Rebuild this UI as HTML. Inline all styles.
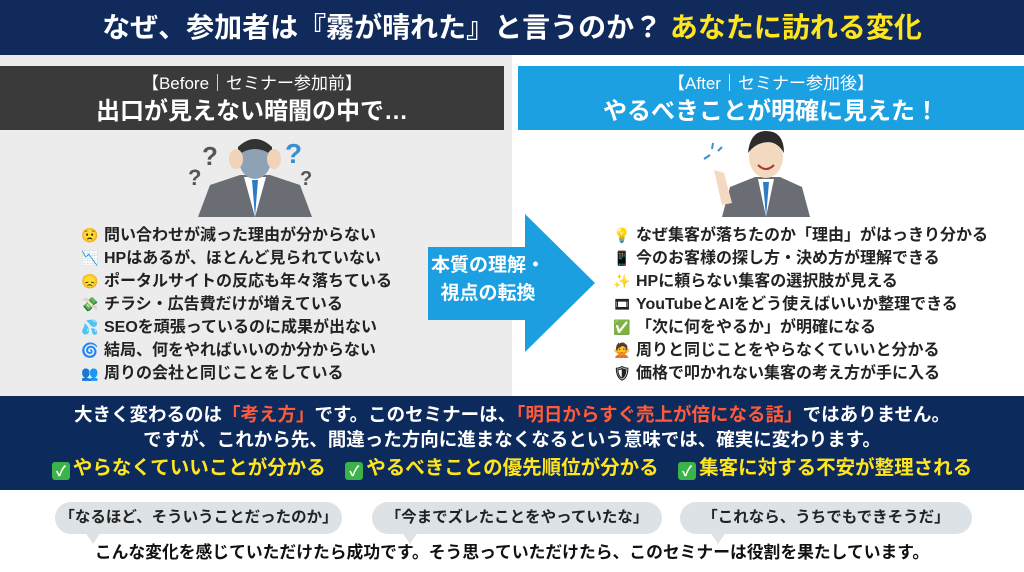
<!DOCTYPE html>
<html><head><meta charset="utf-8"><style>
*{margin:0;padding:0;box-sizing:border-box}
body{width:1024px;height:572px;overflow:hidden;background:#fff;font-family:"Liberation Sans","Noto Sans CJK JP",sans-serif;position:relative}
.a{position:absolute}
.hdr{left:0;top:0;width:1024px;height:55px;background:#102a5c;color:#fff;font-size:28px;font-weight:bold;text-align:center;line-height:55px;white-space:nowrap}
.y{color:#ffe51e}
.lp{left:0;top:55px;width:512px;height:341px;background:#ececec}
.bar{top:66px;height:64px;color:#fff;text-align:center;font-weight:bold}
.bar .s{font-size:17px;line-height:26px;padding-top:5px;font-weight:normal}
.bar .b{font-size:24px;line-height:30px}
.list{font-size:16px;font-weight:bold;color:#222;line-height:23px}
.list div{white-space:nowrap}
.ic{display:inline-block;width:20px;margin-right:4px;text-align:center;font-size:14px}
.band{left:0;top:396px;width:1024px;height:94px;background:#0d2a5c;color:#fff;font-weight:bold;text-align:center;font-size:18.5px;white-space:nowrap}
.r{color:#ff5b3a}
.chk{display:inline-block;width:18px;height:18px;background:#3cb34a;color:#fff;font-size:14px;line-height:18px;border-radius:3px;vertical-align:-2px;margin-right:3px}
.bub{top:502px;height:32px;background:#dde2e6;border-radius:16px;text-align:center;line-height:32px;font-size:15.5px;font-weight:bold;color:#222;white-space:nowrap}
.bub:after{content:"";position:absolute;left:30px;bottom:-10px;border-left:8px solid transparent;border-right:8px solid transparent;border-top:12px solid #dde2e6}
</style></head><body>
<div class="a hdr">なぜ、参加者は『霧が晴れた』と言うのか？ <span class="y">あなたに訪れる変化</span></div>
<div class="a lp"></div>
<div class="a bar" style="left:0;width:504px;background:#3a3a3a"><div class="s">【Before｜セミナー参加前】</div><div class="b">出口が見えない暗闇の中で…</div></div>
<div class="a bar" style="left:518px;width:506px;background:#1ba0e2"><div class="s">【After｜セミナー参加後】</div><div class="b">やるべきことが明確に見えた！</div></div>

<svg class="a" style="left:180px;top:135px" width="150" height="82">
<text x="22" y="30" font-size="26" font-weight="bold" fill="#555" font-family="Liberation Sans">?</text>
<text x="8" y="50" font-size="22" font-weight="bold" fill="#555" font-family="Liberation Sans">?</text>
<text x="105" y="28" font-size="28" font-weight="bold" fill="#3a8fd0" font-family="Liberation Sans">?</text>
<text x="120" y="50" font-size="20" font-weight="bold" fill="#555" font-family="Liberation Sans">?</text>
<path d="M18 82 L30 50 L60 40 L90 40 L120 50 L132 82Z" fill="#6a6e74"/>
<path d="M64 42 L75 82 L86 42Z" fill="#fff"/><path d="M72 45 L75 82 L78 45Z" fill="#2f7ac4"/>
<ellipse cx="75" cy="25" rx="16" ry="19" fill="#8fa2b5"/>
<path d="M58 12 Q75 -4 92 12 L92 20 Q75 8 58 20Z" fill="#333"/>
<ellipse cx="56" cy="24" rx="7" ry="10" fill="#f1d3b8"/><ellipse cx="94" cy="24" rx="7" ry="10" fill="#f1d3b8"/>
</svg>
<svg class="a" style="left:700px;top:125px" width="115" height="92">
<path d="M22 92 L30 62 L55 52 L80 52 L102 62 L110 92Z" fill="#6a6e74"/>
<path d="M58 54 L66 92 L74 54Z" fill="#fff"/><path d="M63 57 L66 92 L69 57Z" fill="#2f7ac4"/>
<ellipse cx="66" cy="32" rx="17" ry="21" fill="#f3d9c0"/>
<path d="M48 28 Q50 6 66 6 Q84 6 84 28 Q76 14 62 18 Q54 20 48 28Z" fill="#2b2b2b"/>
<path d="M58 40 Q66 48 74 40" stroke="#a33" stroke-width="2" fill="none"/>
<path d="M14 45 L22 80 L32 78 L24 48Z" fill="#f3d9c0"/>
<path d="M4 34 L10 30 M12 24 L13 18 M18 26 L22 22" stroke="#3a8fd0" stroke-width="2"/>
</svg>

<div class="a list" style="left:80px;top:224px">
<div><span class="ic">😟</span>問い合わせが減った理由が分からない</div>
<div><span class="ic">📉</span>HPはあるが、ほとんど見られていない</div>
<div><span class="ic">😞</span>ポータルサイトの反応も年々落ちている</div>
<div><span class="ic">💸</span>チラシ・広告費だけが増えている</div>
<div><span class="ic">💦</span>SEOを頑張っているのに成果が出ない</div>
<div><span class="ic">🌀</span>結局、何をやればいいのか分からない</div>
<div><span class="ic">👥</span>周りの会社と同じことをしている</div>
</div>

<svg class="a" style="left:428px;top:214px" width="170" height="140"><path d="M0 33 L97 33 L97 0 L167 69 L97 138 L97 106 L0 106Z" fill="#1b9fe0"/></svg>
<div class="a" style="left:428px;top:252px;width:120px;text-align:center;color:#fff;font-weight:bold;font-size:19px;line-height:28px">本質の理解・<br>視点の転換</div>

<div class="a list" style="left:612px;top:224px">
<div><span class="ic">💡</span>なぜ集客が落ちたのか「理由」がはっきり分かる</div>
<div><span class="ic">📱</span>今のお客様の探し方・決め方が理解できる</div>
<div><span class="ic">✨</span>HPに頼らない集客の選択肢が見える</div>
<div><span class="ic">🎞</span>YouTubeとAIをどう使えばいいか整理できる</div>
<div><span class="ic">✅</span>「次に何をやるか」が明確になる</div>
<div><span class="ic">🙅</span>周りと同じことをやらなくていいと分かる</div>
<div><span class="ic">🛡</span>価格で叩かれない集客の考え方が手に入る</div>
</div>

<div class="a band">
<div style="padding-top:6px;line-height:25px">大きく変わるのは<span class="r">「考え方」</span>です。このセミナーは、<span class="r">「明日からすぐ売上が倍になる話」</span>ではありません。</div>
<div style="line-height:25px">ですが、これから先、間違った方向に進まなくなるという意味では、確実に変わります。</div>
<div style="line-height:32px;font-size:19.5px" class="y"><span class="chk">✓</span>やらなくていいことが分かる　<span class="chk">✓</span>やるべきことの優先順位が分かる　<span class="chk">✓</span>集客に対する不安が整理される</div>
</div>

<div class="a bub" style="left:55px;width:287px">「なるほど、そういうことだったのか」</div>
<div class="a bub" style="left:372px;width:290px">「今までズレたことをやっていたな」</div>
<div class="a bub" style="left:680px;width:292px">「これなら、うちでもできそうだ」</div>
<div class="a" style="left:0;top:541px;width:1024px;text-align:center;font-size:16.8px;font-weight:bold;color:#111;line-height:24px;white-space:nowrap">こんな変化を感じていただけたら成功です。そう思っていただけたら、このセミナーは役割を果たしています。</div>
</body></html>
